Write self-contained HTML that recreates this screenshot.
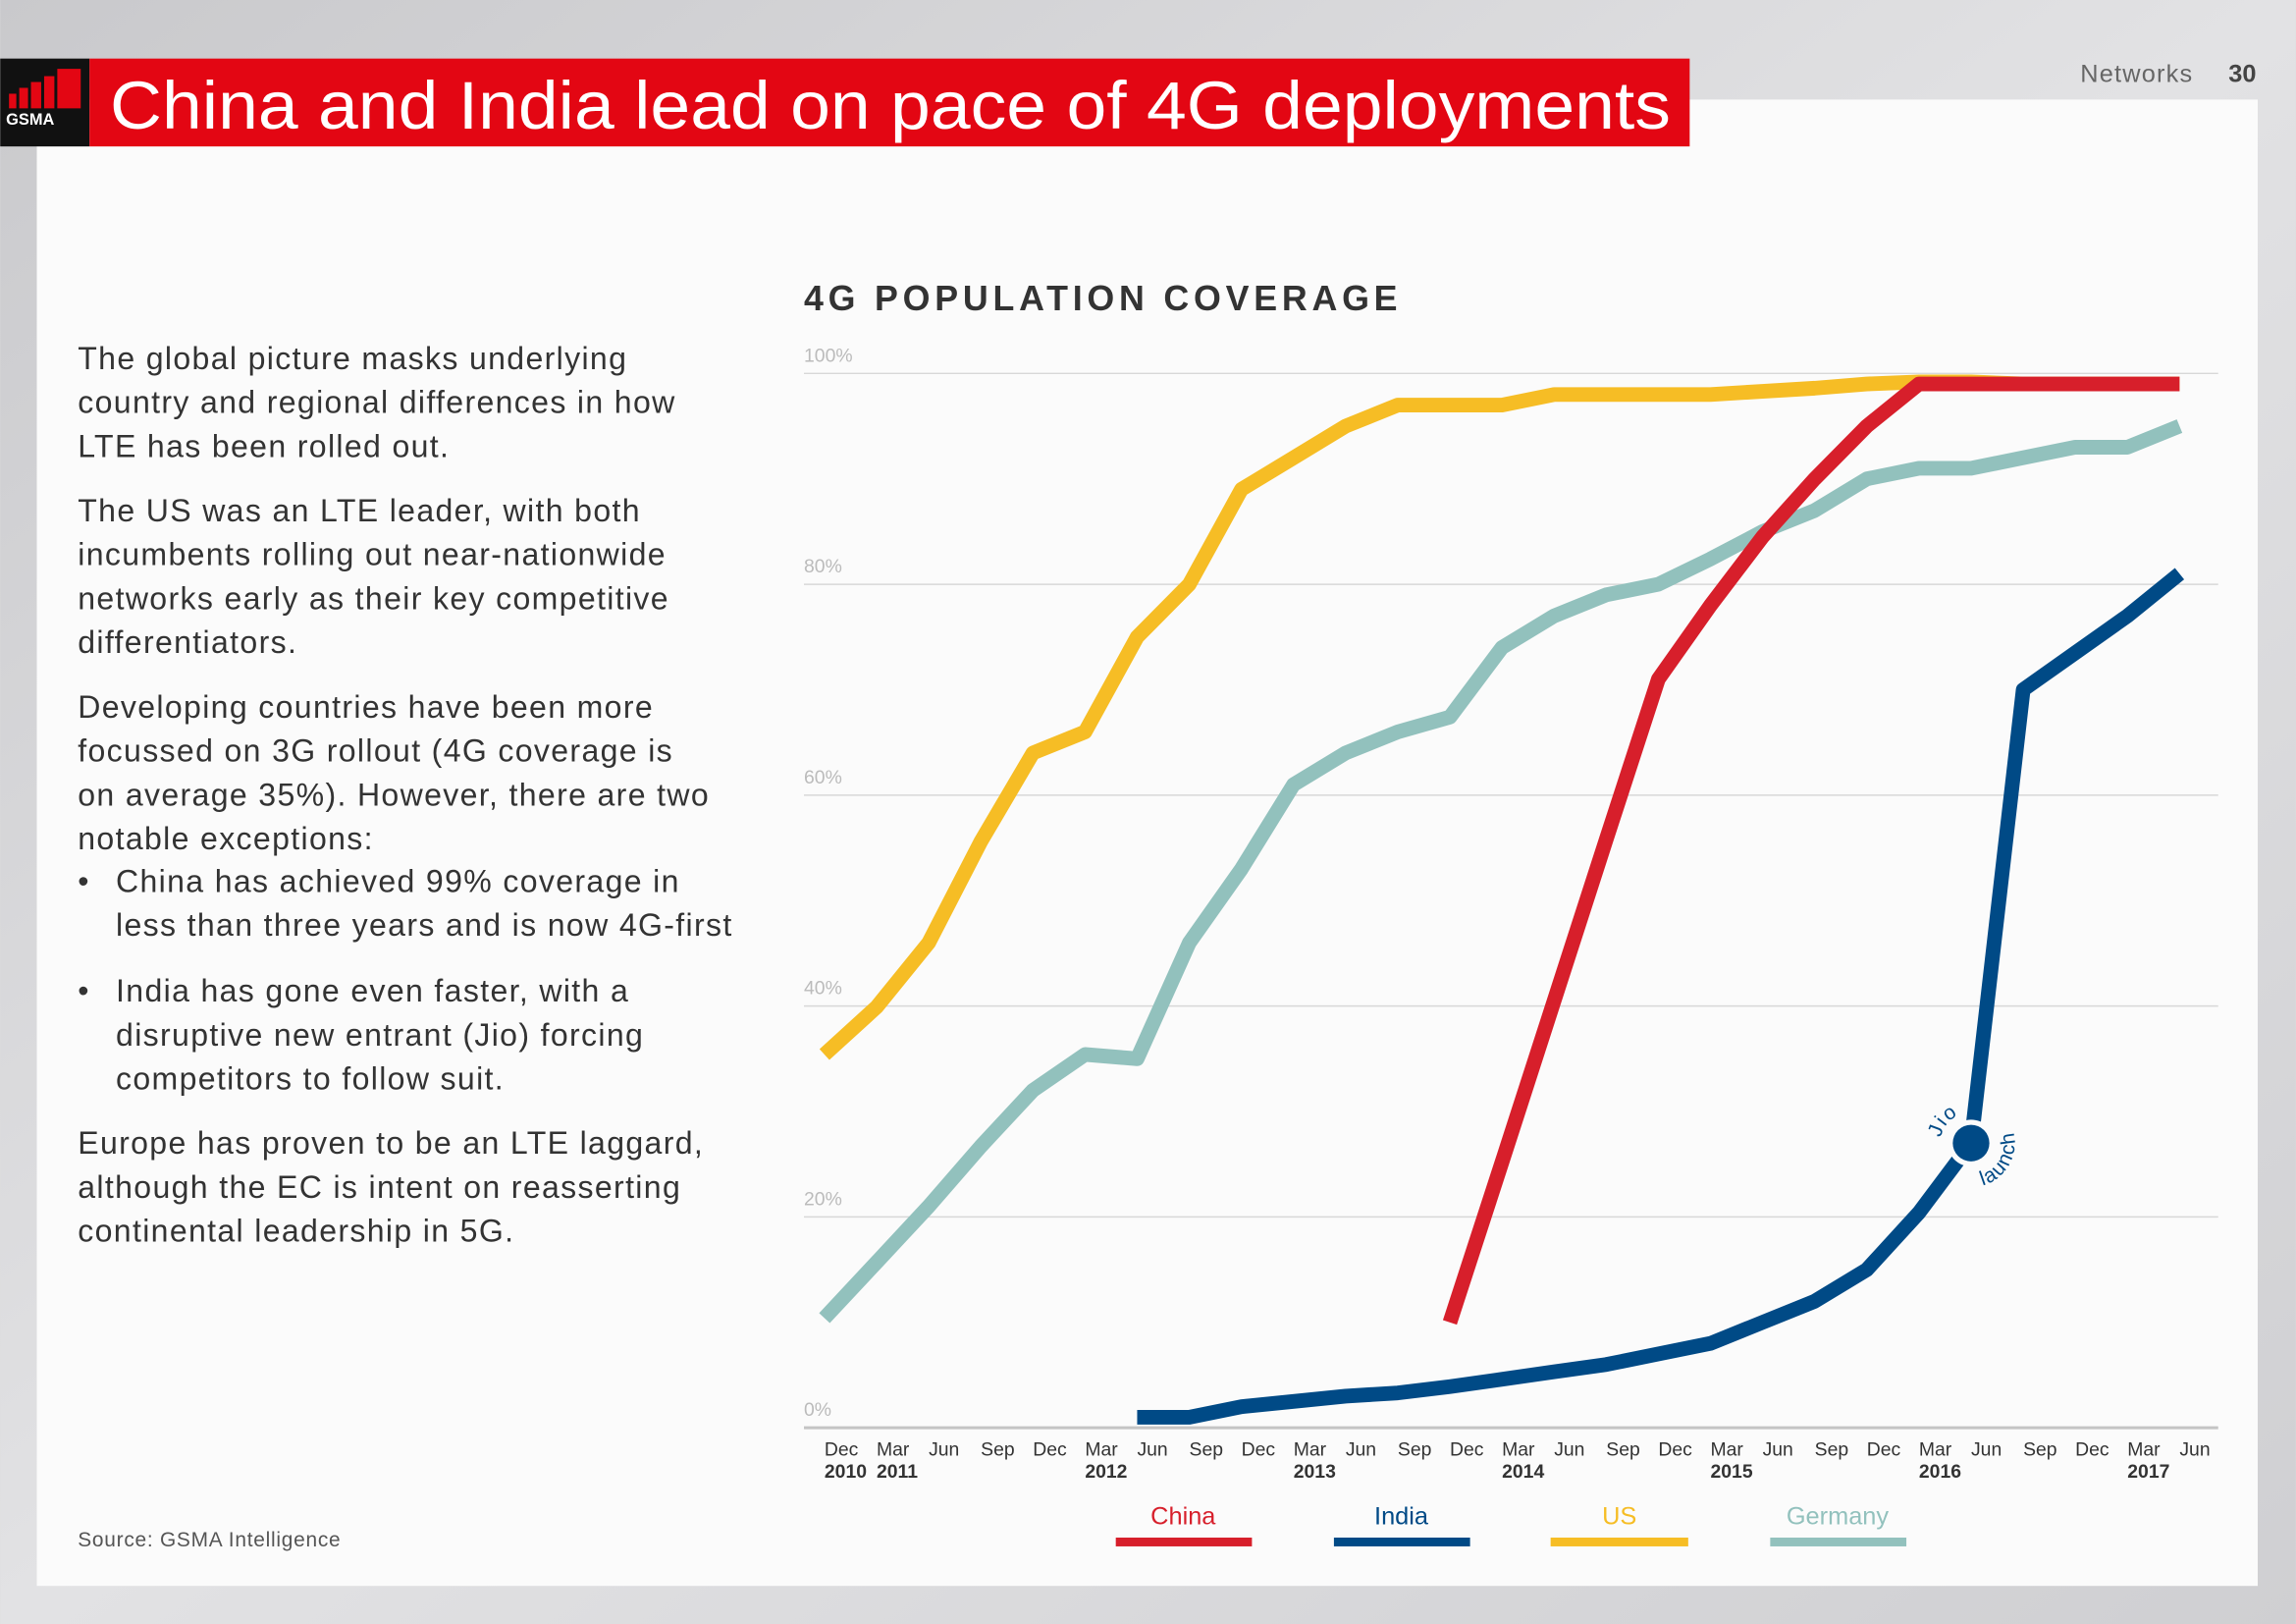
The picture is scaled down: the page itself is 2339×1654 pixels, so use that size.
<!DOCTYPE html>
<html><head><meta charset="utf-8"><style>
html,body{margin:0;padding:0;background:#ddd;}
svg{display:block;font-family:"Liberation Sans",sans-serif;}
</style></head><body>
<svg id="page" width="2339" height="1654" viewBox="0 0 1568 1109" xmlns="http://www.w3.org/2000/svg">
<defs>
<linearGradient id="bg" x1="0" y1="0" x2="1" y2="1">
<stop offset="0" stop-color="#c9c9cc"/><stop offset="0.5" stop-color="#e2e2e4"/><stop offset="1" stop-color="#cfcfd2"/>
</linearGradient>
</defs>
<rect x="0" y="0" width="1568" height="1109" fill="url(#bg)"/>
<rect x="25" y="68" width="1517" height="1015" fill="#fbfbfb"/>
<rect x="0" y="40" width="61" height="60" fill="#111"/>
<g fill="#e30613">
<rect x="6" y="64" width="5" height="10"/><rect x="13" y="60" width="6" height="14"/><rect x="21" y="56" width="7" height="18"/><rect x="30" y="52" width="7" height="22"/><rect x="39" y="47" width="16" height="27"/>
</g>
<text x="4" y="85" font-size="11" font-weight="bold" fill="#fff">GSMA</text>
<rect x="61" y="40" width="1093" height="60" fill="#e30613"/>
<text x="75" y="88" font-size="46" fill="#fff" textLength="1066" lengthAdjust="spacingAndGlyphs">China and India lead on pace of 4G deployments</text>
<text x="1498" y="56" font-size="17" fill="#666" text-anchor="end" letter-spacing="0.8">Networks</text>
<text x="1541" y="56" font-size="17" font-weight="bold" fill="#444" text-anchor="end">30</text>

<g font-size="21.5" fill="#333" letter-spacing="0.9">
<text x="53" y="252">The global picture masks underlying</text>
<text x="53" y="282">country and regional differences in how</text>
<text x="53" y="312">LTE has been rolled out.</text>
<text x="53" y="356">The US was an LTE leader, with both</text>
<text x="53" y="386">incumbents rolling out near-nationwide</text>
<text x="53" y="416">networks early as their key competitive</text>
<text x="53" y="446">differentiators.</text>
<text x="53" y="490">Developing countries have been more</text>
<text x="53" y="520">focussed on 3G rollout (4G coverage is</text>
<text x="53" y="550">on average 35%). However, there are two</text>
<text x="53" y="580">notable exceptions:</text>
<text x="53" y="609">•</text><text x="79" y="609">China has achieved 99% coverage in</text>
<text x="79" y="639">less than three years and is now 4G-first</text>
<text x="53" y="684">•</text><text x="79" y="684">India has gone even faster, with a</text>
<text x="79" y="714">disruptive new entrant (Jio) forcing</text>
<text x="79" y="744">competitors to follow suit.</text>
<text x="53" y="788">Europe has proven to be an LTE laggard,</text>
<text x="53" y="818">although the EC is intent on reasserting</text>
<text x="53" y="848">continental leadership in 5G.</text>
</g>
<text x="53" y="1056" font-size="14" fill="#555" letter-spacing="0.5">Source: GSMA Intelligence</text>

<text x="549" y="212" font-size="24" font-weight="bold" fill="#333" letter-spacing="3.2">4G POPULATION COVERAGE</text>
<g id="chart"></g>

<g font-size="17" text-anchor="middle">
<g><text x="808" y="1041" fill="#d71f2b">China</text><rect x="762" y="1050" width="93" height="6" fill="#d71f2b"/></g>
<g><text x="957" y="1041" fill="#004a86">India</text><rect x="911" y="1050" width="93" height="6" fill="#004a86"/></g>
<g><text x="1106" y="1041" fill="#f6bd25">US</text><rect x="1059" y="1050" width="94" height="6" fill="#f6bd25"/></g>
<g><text x="1255" y="1041" fill="#92c1bd">Germany</text><rect x="1209" y="1050" width="93" height="6" fill="#92c1bd"/></g>
</g>
</svg>
<script>
const months = ["Dec","Mar","Jun","Sep","Dec","Mar","Jun","Sep","Dec","Mar","Jun","Sep","Dec","Mar","Jun","Sep","Dec","Mar","Jun","Sep","Dec","Mar","Jun","Sep","Dec","Mar","Jun"];
const years = {0:"2010",1:"2011",5:"2012",9:"2013",13:"2014",17:"2015",21:"2016",25:"2017"};
const yTicks = [0,20,40,60,80,100];
// values by quarter index (0 = Dec 2010); null = no data
const usValues = [35.4,39.9,46,55.6,64,66,75,80,89,92,95,97,97,97,98,98,98,98,98.3,98.6,99,99.2,99.2,99,99,99,99];
const germanyValues = [10.4,15.7,21,26.7,32,35.4,35,46,53,61,64,66,67.4,74,77,79,80,82.4,85,87,90,91,91,92,93,93,95];
const chinaValues = [null,null,null,null,null,null,null,null,null,null,null,null,10,25.2,40.5,55.8,71,78,84.5,90,95,99,99,99,99,99,99];
const indiaValues = [null,null,null,null,null,null,1,1,2,2.5,3,3.3,3.9,4.6,5.3,6,7,8,10,12,15,20.4,27,70,73.5,77,81];
const jioIndex = 22;

const NS = "http://www.w3.org/2000/svg";
const chart = document.getElementById("chart");
const xs = i => 563 + i * 35.6;
const ys = v => 975 - v * 7.2;
function mk(tag, attrs, parent) {
  const e = document.createElementNS(NS, tag);
  for (const k in attrs) e.setAttribute(k, attrs[k]);
  (parent || chart).appendChild(e);
  return e;
}
yTicks.forEach(t => {
  const l = mk("line", {x1:549, x2:1515, y1:ys(t), y2:ys(t), stroke: t===0 ? "#c4c4c4" : "#d8d8d8", "stroke-width": t===0 ? 2 : 1});
  
  
  const tx = mk("text", {x:549, y:ys(t)-8, "font-size":13, fill:"#bbb"});
  tx.textContent = t + "%";
  
  
});
months.forEach((m, i) => {
  const tx = mk("text", {x:xs(i), y:994, "font-size":13, fill:"#333"});
  tx.textContent = m;
  
  
  if (years[i]) {
    const ty = mk("text", {x:xs(i), y:1009, "font-size":13, "font-weight":"bold", fill:"#333"});
    ty.textContent = years[i];
    
    
  }
});
function series(vals, color, name) {
  let d = "", started = false;
  vals.forEach((v, i) => {
    if (v === null) return;
    d += (started ? "L" : "M") + xs(i).toFixed(1) + "," + ys(v).toFixed(1);
    started = true;
  });
  const p = mk("path", {d, fill:"none", stroke:color, "stroke-width":10, "stroke-linejoin":"round"});
  
  
}
series(usValues, "#f6bd25", "us-line");
series(germanyValues, "#92c1bd", "germany-line");
series(chinaValues, "#d71f2b", "china-line");
series(indiaValues, "#004a86", "india-line");

const cx = xs(jioIndex), cy = ys(indiaValues[jioIndex]);
const ring = mk("circle", {cx, cy, r:16, fill:"#fbfbfb"});


const dot = mk("circle", {cx, cy, r:12.5, fill:"#004a86"});


function pt(r, a) { a = a*Math.PI/180; return (cx + r*Math.cos(a)).toFixed(1) + "," + (cy + r*Math.sin(a)).toFixed(1); }
const defs = mk("defs", {});
mk("path", {id:"jioArc", d:"M" + pt(21,190) + " A21,21 0 0,1 " + pt(21,270)}, defs);
mk("path", {id:"launchArc", d:"M" + pt(30,75) + " A30,30 0 0,0 " + pt(30,-100)}, defs);
const t1 = mk("text", {"font-size":14, fill:"#004a86", "letter-spacing":"1"});


const tp1 = mk("textPath", {href:"#jioArc"}, t1); tp1.textContent = "Jio";
const t2 = mk("text", {"font-size":14, fill:"#004a86", "letter-spacing":"1"});


const tp2 = mk("textPath", {href:"#launchArc"}, t2); tp2.textContent = "launch";
</script>
</body></html>
